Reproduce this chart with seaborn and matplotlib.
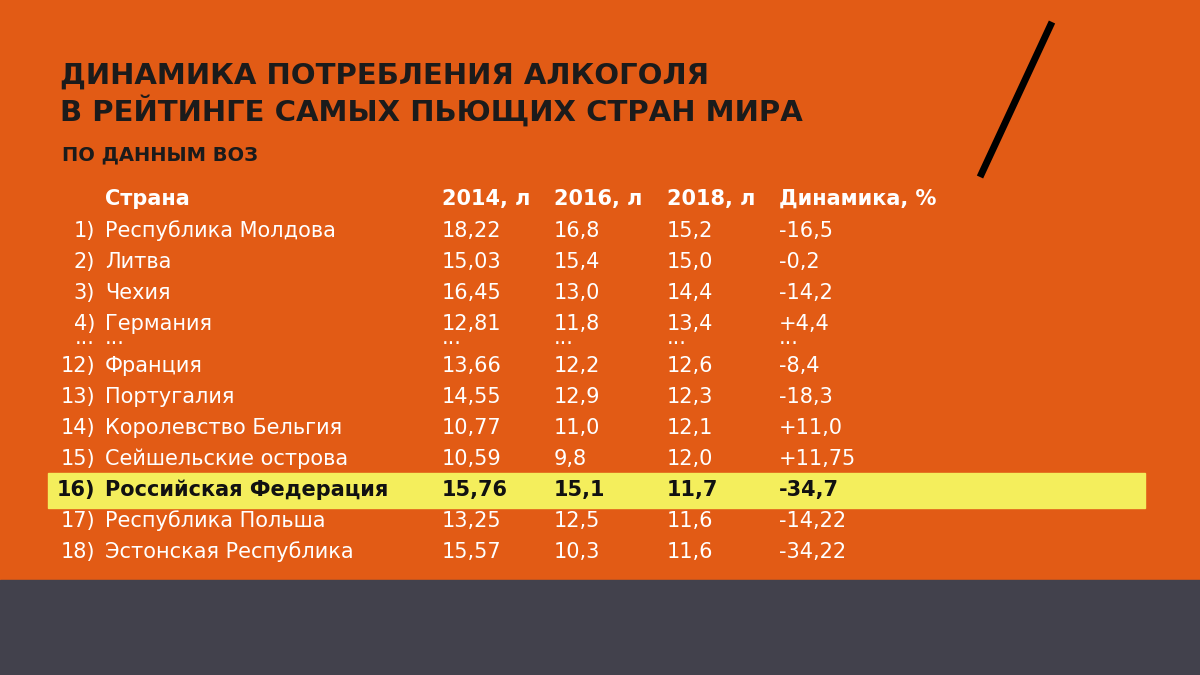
import matplotlib.pyplot as plt
import seaborn as sns

sns.set_theme(style="white")
plt.rcParams["font.family"] = ["DejaVu Sans"]

ORANGE = "#E25B15"
DARK = "#42414C"
YELLOW = "#F4EE5C"

TITLE = ["ДИНАМИКА ПОТРЕБЛЕНИЯ АЛКОГОЛЯ", "В РЕЙТИНГЕ САМЫХ ПЬЮЩИХ СТРАН МИРА"]
SUBTITLE = "ПО ДАННЫМ ВОЗ"
HEADERS = ["Страна", "2014, л", "2016, л", "2018, л", "Динамика, %"]

ranks = ["1)", "2)", "3)", "4)", "...", "12)", "13)", "14)", "15)", "16)", "17)", "18)"]
countries = ["Республика Молдова", "Литва", "Чехия", "Германия", "...", "Франция",
             "Португалия", "Королевство Бельгия", "Сейшельские острова",
             "Российская Федерация", "Республика Польша", "Эстонская Республика"]
v2014 = ["18,22", "15,03", "16,45", "12,81", "...", "13,66", "14,55", "10,77", "10,59",
         "15,76", "13,25", "15,57"]
v2016 = ["16,8", "15,4", "13,0", "11,8", "...", "12,2", "12,9", "11,0", "9,8",
         "15,1", "12,5", "10,3"]
v2018 = ["15,2", "15,0", "14,4", "13,4", "...", "12,6", "12,3", "12,1", "12,0",
         "11,7", "11,6", "11,6"]
dynamics = ["-16,5", "-0,2", "-14,2", "+4,4", "...", "-8,4", "-18,3", "+11,0", "+11,75",
            "-34,7", "-14,22", "-34,22"]
highlight = "Российская Федерация"

fig = plt.figure(figsize=(12, 6.75), dpi=100)
fig.patch.set_facecolor(ORANGE)
ax = fig.add_axes([0, 0, 1, 1])
ax.set_xlim(0, 1200)
ax.set_ylim(675, 0)
ax.axis("off")

ax.add_patch(plt.Rectangle((0, 580), 1200, 95, color=DARK, zorder=0))
ax.plot([1052, 980], [22, 177], color="black", lw=5, solid_capstyle="butt")

ax.text(60, 76, TITLE[0], fontsize=21, fontweight="bold", color="#1b1b1b", va="center")
ax.text(60, 111, TITLE[1], fontsize=21, fontweight="bold", color="#1b1b1b", va="center")
ax.text(62, 155, SUBTITLE, fontsize=14, fontweight="bold", color="#1b1b1b", va="center")

col_x = [105, 442, 554, 667, 779]
fs = 15
for x, h in zip(col_x, HEADERS):
    ax.text(x, 199, h, fontsize=fs, fontweight="bold", color="white", va="center")

y = 231
for i, c in enumerate(countries):
    if c == "...":
        ry = y - 17
        y += 11
    else:
        ry = y
        y += 31
    hl = c == highlight
    color = "#111111" if hl else "white"
    weight = "bold" if hl else "normal"
    if hl:
        ax.add_patch(plt.Rectangle((48, ry - 17), 1097, 35, color=YELLOW, zorder=1))
    ax.text(95, ry, ranks[i], fontsize=fs, color=color, fontweight=weight,
            ha="right", va="center", zorder=2)
    for x, val in zip(col_x, [c, v2014[i], v2016[i], v2018[i], dynamics[i]]):
        ax.text(x, ry, val, fontsize=fs, color=color, fontweight=weight,
                va="center", zorder=2)

fig.savefig("out.png", dpi=100, facecolor=ORANGE)
